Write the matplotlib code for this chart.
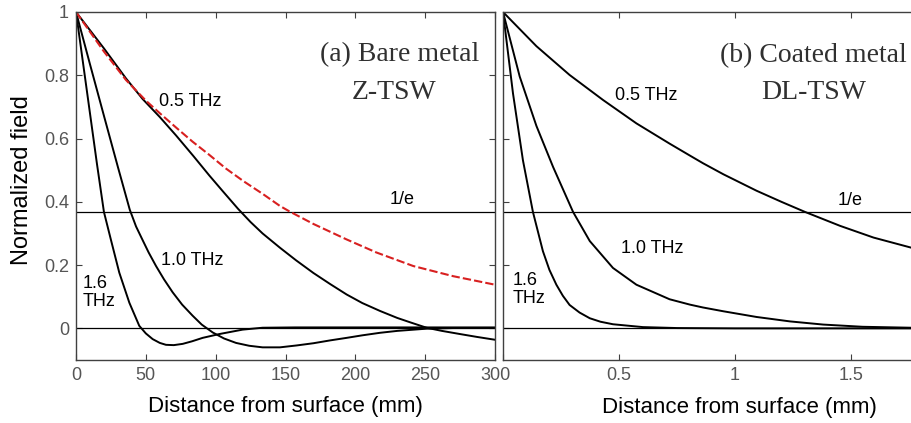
import matplotlib
matplotlib.use("Agg")
import matplotlib.pyplot as plt

# ---- data ----
# (a) bare metal, Z-TSW, distance in mm
xa_red = [0, 20, 35.8, 50, 60, 71.6, 83.5, 95, 107.4, 120, 133.7, 146, 152.7, 170, 193.8, 215, 241.5, 270, 300]
ya_red = [1, 0.875, 0.785, 0.72, 0.68, 0.635, 0.59, 0.55, 0.505, 0.465, 0.425, 0.387, 0.37, 0.33,
          0.281, 0.24, 0.197, 0.165, 0.138]

xa_05 = [0, 20, 35.8, 47.7, 60, 71.6, 84, 95.5, 105, 116, 125, 133.6, 146, 157.6, 170, 182, 193.8,
         205, 217.7, 230, 240, 251, 262, 275, 287, 300]
ya_05 = [1, 0.885, 0.79, 0.725, 0.668, 0.61, 0.545, 0.483, 0.434, 0.378, 0.336, 0.3, 0.255, 0.215,
         0.175, 0.14, 0.107, 0.08, 0.055, 0.033, 0.018, 0.002, -0.008, -0.018, -0.027, -0.036]

xa_10 = [0, 10, 20, 30, 38.5, 43, 47.7, 52, 57.3, 63, 69.2, 76, 83.5, 90, 97.9, 106, 114.6, 124,
         133.6, 146, 158, 170, 182, 193.8, 205, 217.7, 230, 251, 270, 300]
ya_10 = [1, 0.835, 0.672, 0.51, 0.375, 0.322, 0.279, 0.24, 0.197, 0.155, 0.114, 0.075, 0.04, 0.012,
         -0.013, -0.032, -0.046, -0.055, -0.06, -0.06, -0.054, -0.047, -0.038, -0.03, -0.022,
         -0.014, -0.008, -0.001, 0.001, 0.001]

xa_16 = [0, 5, 10, 15, 20, 25, 31, 38.2, 45.3, 50, 54.9, 60, 64.4, 70, 76.4, 83, 90.7, 102.6, 119.3,
         133.6, 157, 200, 300]
ya_16 = [1, 0.84, 0.68, 0.52, 0.368, 0.28, 0.176, 0.081, 0.008, -0.016, -0.034, -0.046, -0.052,
         -0.053, -0.049, -0.041, -0.03, -0.018, -0.004, 0.002, 0.003, 0.003, 0.003]

# (b) coated metal, DL-TSW
xb_05 = [0, 0.144, 0.287, 0.431, 0.575, 0.718, 0.806, 0.862, 0.95, 1.093, 1.2, 1.302, 1.453, 1.597, 1.76]
yb_05 = [1, 0.892, 0.801, 0.722, 0.648, 0.584, 0.546, 0.522, 0.487, 0.435, 0.4, 0.368, 0.324, 0.287, 0.255]

xb_10 = [0, 0.072, 0.144, 0.216, 0.302, 0.374, 0.474, 0.575, 0.718, 0.806, 0.862, 0.95, 1.093,
         1.237, 1.38, 1.55, 1.76]
yb_10 = [1, 0.796, 0.64, 0.51, 0.368, 0.276, 0.191, 0.138, 0.092, 0.075, 0.066, 0.054, 0.036,
         0.022, 0.012, 0.005, 0.002]

xb_16 = [0, 0.043, 0.086, 0.129, 0.172, 0.2, 0.23, 0.258, 0.287, 0.33, 0.374, 0.42, 0.474, 0.603,
         0.75, 1.0, 1.76]
yb_16 = [1, 0.743, 0.531, 0.368, 0.244, 0.185, 0.138, 0.103, 0.074, 0.05, 0.032, 0.021, 0.013,
         0.004, 0.001, 0.0, 0.0]

inv_e = 0.368

xticks_a = [0, 50, 100, 150, 200, 250, 300]
xticks_b = [0, 0.5, 1, 1.5]
xticklabels_b = ["", "0.5", "1", "1.5"]   # its "0" sits on top of the 300 of panel (a)
yticks = [0, 0.2, 0.4, 0.6, 0.8, 1]
yticklabels = ["0", "0.2", "0.4", "0.6", "0.8", "1"]

plt.rcParams['font.family'] = ['Liberation Sans', 'DejaVu Sans']

fig = plt.figure(figsize=(9.11, 4.23), dpi=100)
W, H = 911, 423

# left panel: px 76..495, right panel px 503..967 (cropped at 911)
ax1 = fig.add_axes([76 / W, 1 - 360 / H, 419 / W, 348 / H])
ax2 = fig.add_axes([503 / W, 1 - 360 / H, 464 / W, 348 / H])

spine_col = '#404040'
tick_col = '#555555'
for ax in (ax1, ax2):
    ax.set_ylim(-0.1, 1)
    ax.set_yticks(yticks)
    ax.axhline(inv_e, color='black', lw=0.9)
    ax.axhline(0, color='black', lw=0.9)
    ax.tick_params(direction='in', length=4, width=0.8, color=spine_col,
                   labelcolor=tick_col, labelsize=13, top=True, right=True, pad=5)
    for s in ax.spines.values():
        s.set_color(spine_col)
        s.set_linewidth(1.0)

# (a)
ax1.set_xlim(0, 300)
ax1.set_xticks(xticks_a)
ax1.set_yticklabels(yticklabels)
ax1.plot(xa_05, ya_05, color='black', lw=1.4)
ax1.plot(xa_10, ya_10, color='black', lw=1.4)
ax1.plot(xa_16, ya_16, color='black', lw=1.4)
ax1.plot(xa_red, ya_red, color='#d82020', lw=1.5, linestyle=(0, (4, 1.5)))

ax1.text(81.6, 0.718, "0.5 THz", fontsize=13, ha='center', va='center')
ax1.text(83.4, 0.216, "1.0 THz", fontsize=13, ha='center', va='center')
ax1.text(5, 0.114, "1.6\nTHz", fontsize=13, ha='left', va='center', linespacing=1.05)
ax1.text(233.8, 0.407, "1/e", fontsize=13, ha='center', va='center')
ax1.text(232, 0.865, "(a) Bare metal", fontsize=20, family=['Liberation Serif'],
         color='#303030', ha='center', va='center')
ax1.text(228, 0.745, "Z-TSW", fontsize=20, family=['Liberation Serif'],
         color='#303030', ha='center', va='center')

# (b)
ax2.set_xlim(0, 2)
ax2.set_xticks(xticks_b)
ax2.set_xticklabels(xticklabels_b)
ax2.set_yticklabels([])
ax2.plot(xb_05, yb_05, color='black', lw=1.4)
ax2.plot(xb_10, yb_10, color='black', lw=1.4)
ax2.plot(xb_16, yb_16, color='black', lw=1.4)

ax2.text(0.619, 0.737, "0.5 THz", fontsize=13, ha='center', va='center')
ax2.text(0.644, 0.254, "1.0 THz", fontsize=13, ha='center', va='center')
ax2.text(0.043, 0.123, "1.6\nTHz", fontsize=13, ha='left', va='center', linespacing=1.05)
ax2.text(1.496, 0.405, "1/e", fontsize=13, ha='center', va='center')
ax2.text(1.337, 0.862, "(b) Coated metal", fontsize=20, family=['Liberation Serif'],
         color='#303030', ha='center', va='center')
ax2.text(1.341, 0.745, "DL-TSW", fontsize=20, family=['Liberation Serif'],
         color='#303030', ha='center', va='center')

fig.text(285 / W, 1 - 406 / H, "Distance from surface (mm)", fontsize=16, ha='center', va='center')
fig.text(739 / W, 1 - 407 / H, "Distance from surface (mm)", fontsize=16, ha='center', va='center')
fig.text(22.5 / W, 1 - 180 / H, "Normalized field", fontsize=17, rotation=90, ha='center', va='center')

fig.savefig("out.png", dpi=100)
